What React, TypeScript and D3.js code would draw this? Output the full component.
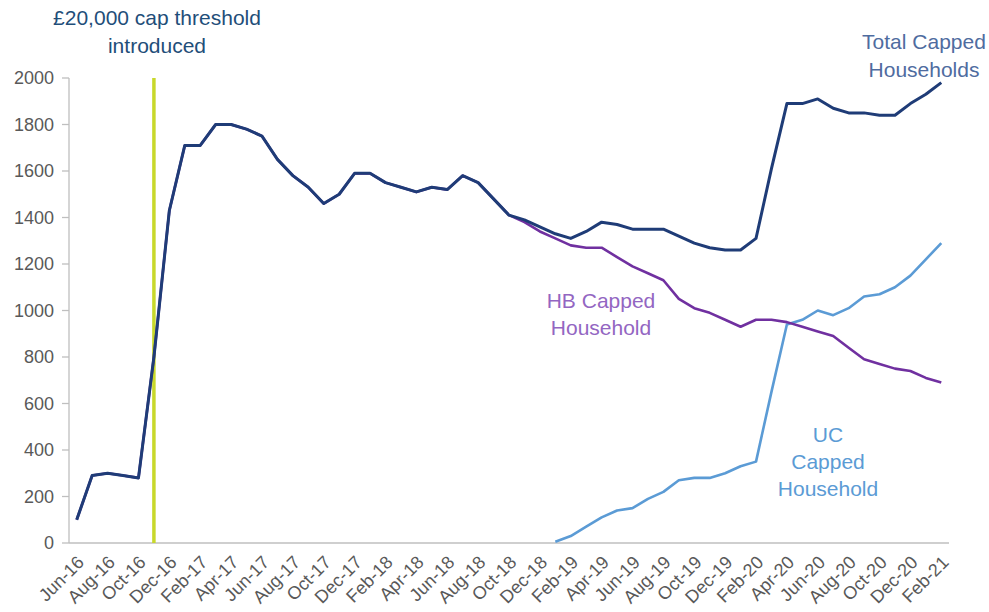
import React from "react";
import * as d3 from "d3";

const months = [
  "Jun-16","Jul-16","Aug-16","Sep-16","Oct-16","Nov-16","Dec-16",
  "Jan-17","Feb-17","Mar-17","Apr-17","May-17","Jun-17","Jul-17","Aug-17","Sep-17","Oct-17","Nov-17","Dec-17",
  "Jan-18","Feb-18","Mar-18","Apr-18","May-18","Jun-18","Jul-18","Aug-18","Sep-18","Oct-18","Nov-18","Dec-18",
  "Jan-19","Feb-19","Mar-19","Apr-19","May-19","Jun-19","Jul-19","Aug-19","Sep-19","Oct-19","Nov-19","Dec-19",
  "Jan-20","Feb-20","Mar-20","Apr-20","May-20","Jun-20","Jul-20","Aug-20","Sep-20","Oct-20","Nov-20","Dec-20",
  "Jan-21","Feb-21"
];

const totalCapped = [
  100,290,300,290,280,800,1430,
  1710,1710,1800,1800,1780,1750,1650,1580,1530,1460,1500,1590,
  1590,1550,1530,1510,1530,1520,1580,1550,1480,1410,1390,1360,
  1330,1310,1340,1380,1370,1350,1350,1350,1320,1290,1270,1260,
  1260,1310,1610,1890,1890,1910,1870,1850,1850,1840,1840,1890,
  1930,1980
];

const hbCapped = [
  100,290,300,290,280,800,1430,
  1710,1710,1800,1800,1780,1750,1650,1580,1530,1460,1500,1590,
  1590,1550,1530,1510,1530,1520,1580,1550,1480,1410,1380,1340,
  1310,1280,1270,1270,1230,1190,1160,1130,1050,1010,990,960,
  930,960,960,950,930,910,890,840,790,770,750,740,
  710,690
];

const ucCapped: (number | null)[] = [
  null,null,null,null,null,null,null,
  null,null,null,null,null,null,null,null,null,null,null,null,
  null,null,null,null,null,null,null,null,null,null,null,null,
  5,30,70,110,140,150,190,220,270,280,280,300,
  330,350,650,940,960,1000,980,1010,1060,1070,1100,1150,
  1220,1290
];

const yTicks = [0,200,400,600,800,1000,1200,1400,1600,1800,2000];
const xLabelMonths = months.filter((_, i) => i % 2 === 0);
const thresholdMonth = "Nov-16";

const W = 989, H = 612;
const FONT = "Arial, 'Liberation Sans', Helvetica, sans-serif";

export default function App() {
  const x = d3.scaleBand<string>().domain(months).range([69, 949]);
  const cx = (m: string) => (x(m) as number) + x.bandwidth() / 2;
  const y = d3.scaleLinear().domain([0, 2000]).range([543, 78]);

  const mk = (vals: (number | null)[]) =>
    d3.line<number | null>()
      .defined((d) => d !== null)
      .x((_, i) => cx(months[i]))
      .y((d) => y(d as number))(vals) as string;

  return (
    <svg width={W} height={H} style={{ position: "absolute", left: 0, top: 0, background: "#fff" }} fontFamily={FONT}>
      {/* y axis */}
      <line x1={69} x2={69} y1={y(2000)} y2={y(0)} stroke="#BFBFBF" strokeWidth={1.3} />
      {yTicks.map((t) => (
        <g key={t}>
          <line x1={62} x2={69} y1={y(t)} y2={y(t)} stroke="#BFBFBF" strokeWidth={1.3} />
          <text x={54} y={y(t)} dy="0.35em" textAnchor="end" fontSize={18} fill="#595959">{t}</text>
        </g>
      ))}
      {/* x axis */}
      <line x1={69} x2={949} y1={y(0)} y2={y(0)} stroke="#BFBFBF" strokeWidth={1.3} />
      {xLabelMonths.map((m) => (
        <text key={m} transform={`translate(${cx(m) + 4},${559}) rotate(-45)`} dy="0.35em" textAnchor="end" fontSize={18} fill="#595959">{m}</text>
      ))}
      {/* threshold line */}
      <line x1={cx(thresholdMonth)} x2={cx(thresholdMonth)} y1={y(2000)} y2={y(0)} stroke="#C8D82B" strokeWidth={3.5} />
      {/* series */}
      <path d={mk(ucCapped)} fill="none" stroke="#5B9BD5" strokeWidth={2.6} strokeLinejoin="round" />
      <path d={mk(hbCapped)} fill="none" stroke="#7030A0" strokeWidth={2.6} strokeLinejoin="round" />
      <path d={mk(totalCapped)} fill="none" stroke="#1F3C77" strokeWidth={3} strokeLinejoin="round" />
      {/* annotations */}
      <text x={157} textAnchor="middle" fontSize={21} fill="#1F4E79">
        <tspan x={157} y={25}>£20,000 cap threshold</tspan>
        <tspan x={157} y={53}>introduced</tspan>
      </text>
      <text textAnchor="middle" fontSize={21} fill="#4F6C9F">
        <tspan x={924} y={49}>Total Capped</tspan>
        <tspan x={924} y={77}>Households</tspan>
      </text>
      <text textAnchor="middle" fontSize={21} fill="#9366C2">
        <tspan x={601} y={308}>HB Capped</tspan>
        <tspan x={601} y={335}>Household</tspan>
      </text>
      <text textAnchor="middle" fontSize={21} fill="#5B9BD5">
        <tspan x={828} y={442}>UC</tspan>
        <tspan x={828} y={469}>Capped</tspan>
        <tspan x={828} y={496}>Household</tspan>
      </text>
    </svg>
  );
}
